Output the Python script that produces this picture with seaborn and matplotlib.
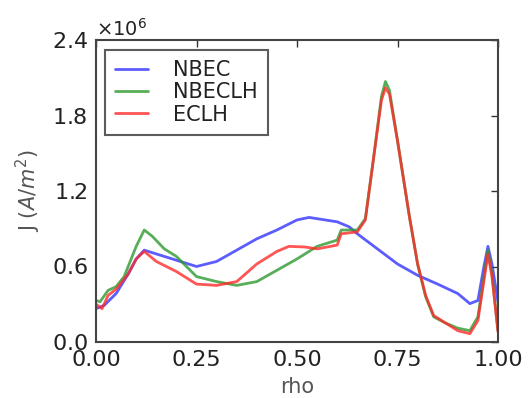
import numpy as np
import pandas as pd
import matplotlib
matplotlib.use("Agg")
import matplotlib.pyplot as plt
import seaborn as sns
from matplotlib.ticker import ScalarFormatter

# values (J in units of 1e6 A/m^2)
rho_nbec = [0.0, 0.02, 0.05, 0.08, 0.10, 0.12, 0.15, 0.20, 0.25, 0.30, 0.35, 0.40, 0.45,
            0.50, 0.53, 0.55, 0.60, 0.63, 0.65, 0.70, 0.75, 0.80, 0.85, 0.90, 0.93, 0.95,
            0.965, 0.975, 0.985, 1.0]
j_nbec = [0.265, 0.29, 0.385, 0.54, 0.66, 0.73, 0.70, 0.65, 0.60, 0.64, 0.73, 0.82, 0.89,
          0.97, 0.99, 0.98, 0.955, 0.915, 0.86, 0.74, 0.62, 0.53, 0.46, 0.385, 0.305, 0.33,
          0.60, 0.76, 0.62, 0.32]

rho_nbeclh = [0.0, 0.01, 0.03, 0.05, 0.07, 0.10, 0.12, 0.14, 0.17, 0.20, 0.25, 0.30, 0.35,
              0.40, 0.45, 0.50, 0.55, 0.60, 0.61, 0.65, 0.67, 0.69, 0.71, 0.72, 0.73, 0.75,
              0.78, 0.80, 0.82, 0.84, 0.87, 0.90, 0.93, 0.95, 0.975, 0.985, 1.0]
j_nbeclh = [0.33, 0.32, 0.41, 0.44, 0.52, 0.76, 0.89, 0.84, 0.74, 0.68, 0.52, 0.48, 0.45,
            0.48, 0.57, 0.66, 0.76, 0.81, 0.89, 0.89, 0.98, 1.45, 1.95, 2.07, 2.0, 1.6,
            0.99, 0.62, 0.36, 0.20, 0.15, 0.11, 0.09, 0.20, 0.73, 0.54, 0.09]

rho_eclh = [0.0, 0.015, 0.03, 0.05, 0.08, 0.10, 0.12, 0.15, 0.20, 0.25, 0.30, 0.35, 0.40,
            0.45, 0.48, 0.52, 0.55, 0.60, 0.61, 0.65, 0.67, 0.69, 0.71, 0.72, 0.73, 0.75,
            0.78, 0.80, 0.82, 0.84, 0.87, 0.90, 0.93, 0.95, 0.975, 0.985, 1.0]
j_eclh = [0.30, 0.265, 0.37, 0.42, 0.54, 0.66, 0.72, 0.64, 0.56, 0.46, 0.45, 0.48, 0.62,
          0.72, 0.76, 0.755, 0.74, 0.77, 0.86, 0.875, 0.97, 1.45, 1.92, 2.02, 1.97, 1.6,
          0.99, 0.62, 0.37, 0.21, 0.15, 0.09, 0.066, 0.17, 0.70, 0.52, 0.08]

series = [("NBEC", rho_nbec, j_nbec, "#3333ff"),
          ("NBECLH", rho_nbeclh, j_nbeclh, "#2e9a2e"),
          ("ECLH", rho_eclh, j_eclh, "#ff2a2a")]

sns.set_style("white")
plt.rcParams["font.family"] = ["DejaVu Sans"]

fig, ax = plt.subplots(figsize=(5.31, 3.98), dpi=100)
fig.subplots_adjust(left=96 / 531, right=498 / 531, bottom=1 - 342 / 398, top=1 - 40 / 398)

for name, x, y, col in series:
    df = pd.DataFrame({"rho": x, "J": np.array(y) * 1e6})
    sns.lineplot(data=df, x="rho", y="J", ax=ax, color=col, alpha=0.8, lw=2, label=name)

ax.set_xlim(0, 1)
ax.set_ylim(0, 2.4e6)
ax.set_xticks([0, 0.25, 0.5, 0.75, 1.0])
ax.set_yticks([0, 0.6e6, 1.2e6, 1.8e6, 2.4e6])
fmt = ScalarFormatter(useMathText=True)
fmt.set_powerlimits((0, 0))
ax.yaxis.set_major_formatter(fmt)
ax.yaxis.get_offset_text().set_fontsize(14)
ax.yaxis.get_offset_text().set_color("#555555")

ax.tick_params(direction="in", top=True, right=True, length=5, width=1,
               labelsize=16, colors="#333333", labelcolor="#222222", pad=6)
for s in ax.spines.values():
    s.set_color("#444444")
    s.set_linewidth(1.5)

ax.set_xlabel("rho", fontsize=15, color="#555555", labelpad=5)
ax.set_ylabel(r"J $(A/m^2)$", fontsize=15, color="#555555", labelpad=6)

leg = ax.legend(loc="upper left", fontsize=15, fancybox=False, frameon=True,
                handlelength=1.55, borderpad=0.5, labelspacing=0.1, handletextpad=1.2,
                borderaxespad=0, bbox_to_anchor=(9 / 402, 1 - 10 / 302))
leg.get_frame().set_edgecolor("#333333")
leg.get_frame().set_linewidth(1.5)
for t in leg.get_texts():
    t.set_color("#222222")

fig.savefig("out.png", dpi=100)
